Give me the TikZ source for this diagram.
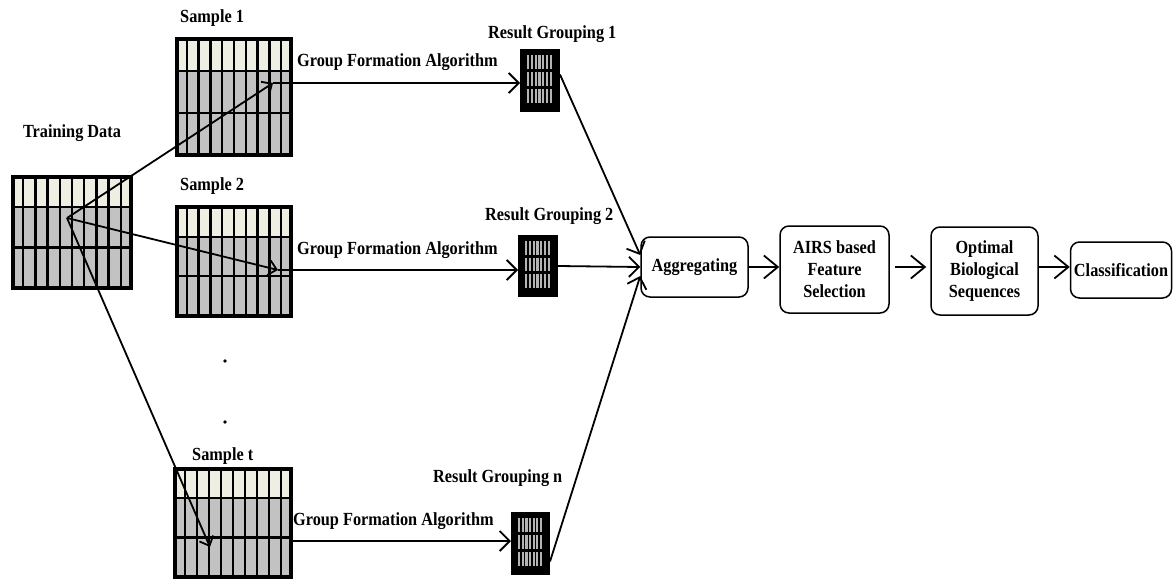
\documentclass[tikz,border=0pt]{standalone}
\usepackage{fontspec}
\setmainfont{Liberation Serif}[FakeStretch=0.88]
\usetikzlibrary{arrows.meta}
\definecolor{cream}{HTML}{EFEEE2}
\definecolor{gridgray}{HTML}{C2C2C2}
\definecolor{stripe}{HTML}{B4B4B4}
\tikzset{
  gridframe/.style={draw, line width=4pt, inner sep=0pt, outer sep=0pt},
  lbl/.style={font=\fontsize{18.5}{22}\selectfont\bfseries, inner sep=0pt},
  rbox/.style={draw, line width=1.5pt, rounded corners=9pt, align=center, inner sep=1pt, font=\fontsize{18.5}{22}\selectfont\bfseries},
  arr/.style={line width=1.8pt, -{Straight Barb[length=10pt,width=20pt,line width=1.8pt]}},
  arrsmall/.style={line width=1.8pt, -{Straight Barb[length=8pt,width=15pt,line width=1.8pt]}},
  bigarr/.style={line width=1.8pt, -{Straight Barb[length=14pt,width=23pt,line width=1.8pt]}},
}
\newcommand\gridblock[5]{%
  \fill[gridgray] (#2,#3) rectangle (#4,#5);
  \fill[cream] (#2,#3) rectangle (#4,{#3+0.28*(#5-#3)});
  \foreach \k in {1,...,9}{\draw[line width=2.4pt] ({#2+\k*(#4-#2)/10},#3) -- ({#2+\k*(#4-#2)/10},#5);}
  \draw[line width=2.2pt] (#2,{#3+0.28*(#5-#3)}) -- (#4,{#3+0.28*(#5-#3)});
  \draw[line width=2.2pt] (#2,{#3+0.63*(#5-#3)}) -- (#4,{#3+0.63*(#5-#3)});
  \node[gridframe, minimum width={(#4-#2-4)*1pt}, minimum height={(#5-#3-4)*1pt}] (#1) at ({(#2+#4)/2},{(#3+#5)/2}) {};
}
\newcommand\resblock[5]{%
  \fill[black] (#2,#3) rectangle (#4,#5);
  \foreach \r in {0,1,2}{
    \foreach \k in {0,...,6}{
      \fill[stripe] ({#2+7+\k*(#4-#2-16)/6.3},{#3+6+\r*(#5-#3-12)/3}) rectangle +(2.2,{(#5-#3-12)/3-3});
    }
  }
  \node[inner sep=0pt, outer sep=0pt, minimum width={(#4-#2)*1pt}, minimum height={(#5-#3)*1pt}] (#1) at ({(#2+#4)/2},{(#3+#5)/2}) {};
}
\begin{document}
\begin{tikzpicture}[x=1pt,y=-1pt]
\useasboundingbox (0,0) rectangle (1174,581);

% data grids
\gridblock{train}{11}{175}{133}{290}
\gridblock{s1}{175}{37}{293}{157}
\gridblock{s2}{175}{205}{293}{318}
\gridblock{st}{173}{467}{293}{579}

% result groupings
\resblock{r1}{520}{49}{560}{112}
\resblock{r2}{518}{235}{558}{297}
\resblock{r3}{511}{512}{550}{575}

% labels
\node[lbl] (ltrain) at (72,133) {Training Data};
\node[lbl, anchor=west] (ls1) at (180,18) {Sample 1};
\node[lbl, anchor=west] (ls2) at (180,186) {Sample 2};
\node[lbl, anchor=west] (lst) at (192,456) {Sample t};
\node[lbl, anchor=west] (lg1) at (297,62) {Group Formation Algorithm};
\node[lbl, anchor=west] (lg2) at (297,250) {Group Formation Algorithm};
\node[lbl, anchor=west] (lg3) at (293,521) {Group Formation Algorithm};
\node[lbl, anchor=west] (lr1) at (488,34) {Result Grouping 1};
\node[lbl, anchor=west] (lr2) at (485,216) {Result Grouping 2};
\node[lbl, anchor=west] (lr3) at (433,478) {Result Grouping n};

% dots
\fill (225,361) circle (1.8pt);
\fill (225,422) circle (1.8pt);

% process boxes
\node[rbox, minimum width=107pt, minimum height=60pt] (agg) at (694.5,267) {Aggregating};
\node[rbox, minimum width=109pt, minimum height=87pt] (airs) at (834.5,269.5) {AIRS based\\Feature\\Selection};
\node[rbox, minimum width=107pt, minimum height=88pt] (opt) at (984.5,271) {Optimal\\Biological\\Sequences};
\node[rbox, minimum width=101pt, minimum height=56pt, inner sep=0pt] (cls) at (1121,270) {Classification};

% training data to samples
\coordinate (ts) at (67,218);
\coordinate (e1) at (273,83);
\coordinate (e2) at (278,270);
\coordinate (e3) at (210,547);
\draw[arrsmall] (ts) -- (e1);
\draw[arrsmall] (ts) -- (e2);
\draw[arrsmall] (ts) -- (e3);

% group formation
\coordinate (g3) at (293,541);
\draw[arr] (e1) -- (e1 -| r1.west);
\draw[arr] (e2) -- (e2 -| r2.west);
\draw[arr] (g3) -- (g3 -| r3.west);

% results to aggregating
\draw[arr] ([yshift=6pt]r1.east) -- ([yshift=12pt]agg.west);
\draw[arr] (r2.east) -- (agg.west);
\draw[arr] ([yshift=-18pt]r3.east) -- ([yshift=-9pt]agg.west);

% pipeline
\coordinate (p1) at (895,267);
\draw[bigarr] (agg.east) -- (agg.east -| airs.west);
\draw[bigarr] (p1) -- ([xshift=-4pt]p1 -| opt.west);
\draw[bigarr] (opt.east |- agg.east) -- (agg.east -| cls.west);
\end{tikzpicture}
\end{document}
